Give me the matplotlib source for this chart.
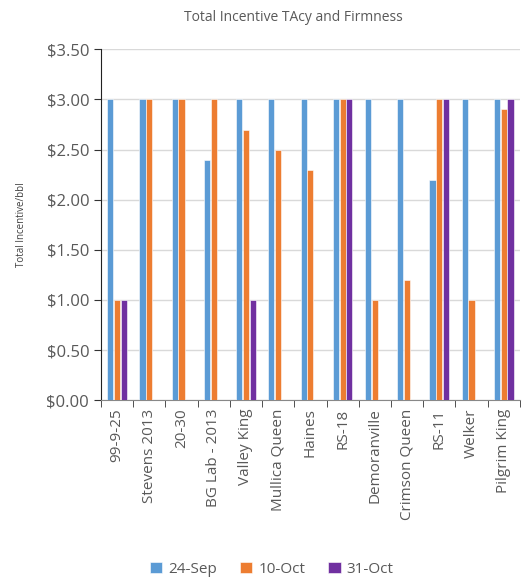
import numpy as np
import matplotlib
matplotlib.use('Agg')
import matplotlib.pyplot as plt
from matplotlib.ticker import FuncFormatter

# -------------------DATA--------------------
varieties = ['99-9-25', 'Stevens 2013', '20-30', 'BG Lab - 2013', 'Valley King',
             'Mullica Queen', 'Haines', 'RS-18', 'Demoranville', 'Crimson Queen',
             'RS-11', 'Welker', 'Pilgrim King']
sep24 = [3.00, 3.00, 3.00, 2.40, 3.00, 3.00, 3.00, 3.00, 3.00, 3.00, 2.20, 3.00, 3.00]
oct10 = [1.00, 3.00, 3.00, 3.00, 2.70, 2.50, 2.30, 3.00, 1.00, 1.20, 3.00, 1.00, 2.90]
oct31 = [1.00, 0, 0, 0, 1.00, 0, 0, 3.00, 0, 0, 3.00, 0, 3.00]
series_names = ['24-Sep', '10-Oct', '31-Oct']
series_colors = ['#5B9BD5', '#ED7D31', '#7030A0']

plt.rcParams['font.family'] = ['Open Sans', 'DejaVu Sans']
grey = '#595959'

fig = plt.figure(figsize=(5.23, 5.80), dpi=100)
ax = fig.add_axes([0.193, 0.31, 0.801, 0.605])

x = np.arange(len(varieties))
width = 0.19
offsets = [-0.21, 0, 0.21]
for vals, name, col, off in zip([sep24, oct10, oct31], series_names, series_colors, offsets):
    ax.bar(x + off, vals, width, color=col, label=name, edgecolor='white', linewidth=0.4, zorder=3)

ax.set_xlim(-0.5, len(varieties) - 0.5)
ax.set_ylim(0, 3.5)
ax.set_yticks(np.arange(0, 3.51, 0.5))
ax.yaxis.set_major_formatter(FuncFormatter(lambda v, p: '${:.2f}'.format(v)))
ax.grid(axis='y', color='#D9D9D9', linewidth=1, zorder=0)

ax.set_xticks(x)
ax.set_xticklabels(varieties, rotation=90, fontsize=11, color=grey)
ax.set_xticks(np.arange(-0.5, len(varieties), 1), minor=True)
ax.tick_params(axis='x', which='major', length=0, pad=6)
ax.tick_params(axis='x', which='minor', length=5, color='#333333')
ax.tick_params(axis='y', labelsize=12, labelcolor=grey, length=5, color='#333333')

for s in ['top', 'right']:
    ax.spines[s].set_visible(False)
ax.spines['left'].set_color('#222222')
ax.spines['bottom'].set_color('#888888')

ax.set_ylabel('Total Incentive/bbl', fontsize=7, color='#404040', labelpad=14)
fig.suptitle('Total Incentive TAcy and Firmness', fontsize=10, color=grey, y=0.982, x=0.56)

fig.legend(loc='lower center', bbox_to_anchor=(0.52, -0.018), ncol=3, frameon=False,
           fontsize=11, labelcolor=grey, handlelength=0.8, handleheight=0.8,
           handletextpad=0.4, columnspacing=1.5)

fig.savefig('out.png', dpi=100)
